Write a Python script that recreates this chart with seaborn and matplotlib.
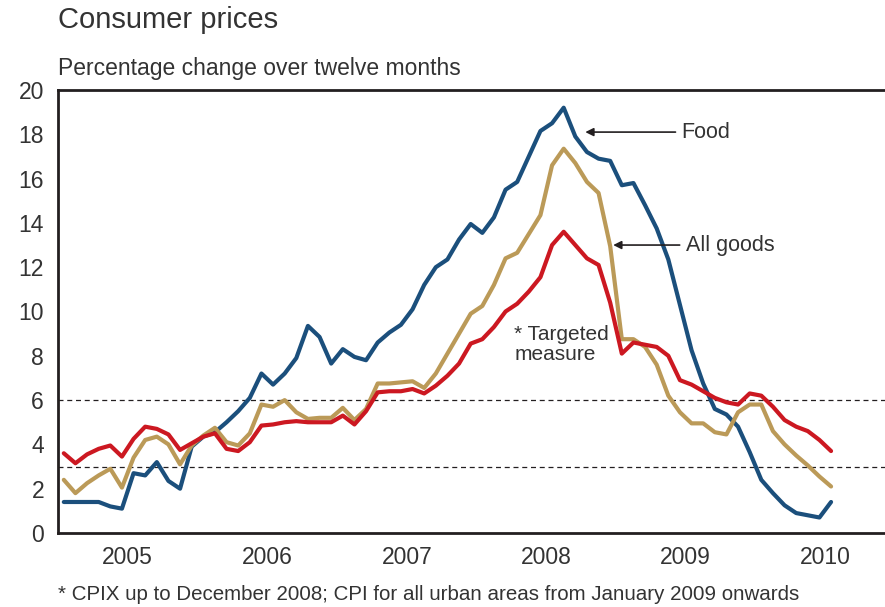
import numpy as np
import pandas as pd
import matplotlib
matplotlib.use("Agg")
import matplotlib.pyplot as plt
import seaborn as sns

# Monthly values, Jan 2005 - Jul 2010 (percentage change over twelve months)
food = [1.4, 1.4, 1.4, 1.4, 1.2, 1.1, 2.7, 2.6, 3.2, 2.35, 2.0, 3.9,
        4.35, 4.55, 5.0, 5.5, 6.1, 7.2, 6.7, 7.2, 7.9, 9.35, 8.85, 7.65,
        8.3, 7.95, 7.8, 8.6, 9.05, 9.4, 10.1, 11.2, 12.0, 12.35, 13.25, 13.95,
        13.55, 14.25, 15.5, 15.85, 17.0, 18.15, 18.5, 19.2, 17.9, 17.2, 16.9, 16.8,
        15.7, 15.8, 14.8, 13.75, 12.35, 10.3, 8.25, 6.75, 5.6, 5.35, 4.8, 3.65,
        2.4, 1.8, 1.25, 0.9, 0.8, 0.7, 1.4]
all_goods = [2.4, 1.8, 2.25, 2.6, 2.9, 2.05, 3.4, 4.2, 4.35, 4.0, 3.1, 3.95,
             4.4, 4.75, 4.1, 3.95, 4.5, 5.8, 5.7, 6.0, 5.45, 5.15, 5.2, 5.2,
             5.65, 5.1, 5.6, 6.75, 6.75, 6.8, 6.85, 6.55, 7.2, 8.1, 9.0, 9.9,
             10.25, 11.2, 12.4, 12.65, 13.5, 14.35, 16.6, 17.35, 16.7, 15.85, 15.35, 12.95,
             8.75, 8.75, 8.4, 7.6, 6.2, 5.45, 4.95, 4.95, 4.55, 4.45, 5.45, 5.8,
             5.8, 4.6, 4.0, 3.5, 3.05, 2.55, 2.1]
targeted = [3.6, 3.15, 3.55, 3.8, 3.95, 3.45, 4.25, 4.8, 4.7, 4.45, 3.75, 4.05,
            4.35, 4.5, 3.8, 3.7, 4.1, 4.85, 4.9, 5.0, 5.05, 5.0, 5.0, 5.0,
            5.3, 4.9, 5.5, 6.35, 6.4, 6.4, 6.5, 6.3, 6.65, 7.1, 7.65, 8.55,
            8.75, 9.3, 10.0, 10.35, 10.9, 11.55, 13.0, 13.6, 13.0, 12.4, 12.1, 10.4,
            8.1, 8.6, 8.5, 8.4, 8.0, 6.9, 6.7, 6.4, 6.1, 5.9, 5.8, 6.3,
            6.2, 5.7, 5.1, 4.8, 4.6, 4.2, 3.7]
years = [2005, 2006, 2007, 2008, 2009, 2010]
target_band = [3, 6]

t = 2005 + (np.arange(len(food)) + 0.5) / 12
df = pd.DataFrame({"t": t, "Food": food, "All goods": all_goods, "Targeted": targeted})

sns.set_style("white")
plt.rcParams["font.family"] = ["Liberation Sans", "DejaVu Sans"]
ink = "#231f20"
txt = "#333333"

fig = plt.figure(figsize=(8.85, 6.07), dpi=100)
ax = fig.add_axes([58 / 885, 1 - 533 / 607, 827 / 885, 443 / 607])

for lvl in target_band:
    ax.axhline(lvl, color=ink, lw=0.9, ls=(0, (4, 3)), zorder=1)

colors = {"Food": "#1b4f7c", "All goods": "#bb9a58", "Targeted": "#cc1821"}
for name, c in colors.items():
    sns.lineplot(data=df, x="t", y=name, ax=ax, color=c, lw=3.0, zorder=3)

ax.set_xlim(2005, 2005 + 827 / 139.5)
ax.set_ylim(0, 20)
ax.set_yticks(range(0, 21, 2))
ax.set_xticks(years[1:])
ax.set_xticklabels([])
ax.set_xticks([y + 0.5 for y in years], minor=True)
ax.set_xticklabels([str(y) for y in years], minor=True)
ax.tick_params(axis="x", which="major", direction="in", length=12, width=1.8, color=ink)
ax.tick_params(axis="x", which="minor", length=0, pad=9, labelsize=16.5, labelcolor=txt)
ax.tick_params(axis="y", direction="in", length=14, width=1.8, color=ink,
               pad=10, labelsize=16.5, labelcolor=txt)
ax.set_xlabel("")
ax.set_ylabel("")
for side in ["left", "bottom", "top"]:
    ax.spines[side].set_color(ink)
    ax.spines[side].set_linewidth(2)
ax.spines["right"].set_visible(False)

arrow = dict(arrowstyle="-|>", color=ink, lw=1.2, mutation_scale=12)
ax.annotate("Food", xy=(2008.76, 18.1), xytext=(2009.47, 18.1), arrowprops=arrow,
            fontsize=15.5, color=txt, va="center", ha="left")
ax.annotate("All goods", xy=(2008.96, 13.0), xytext=(2009.50, 13.0), arrowprops=arrow,
            fontsize=15.5, color=txt, va="center", ha="left")
ax.text(2008.27, 8.5, "* Targeted\nmeasure", fontsize=15, color=txt, va="center",
        ha="left", linespacing=1.1)

fig.text(58 / 885, 1 - 20 / 607, "Consumer prices", fontsize=21, color=txt, va="center")
fig.text(58 / 885, 1 - 68 / 607, "Percentage change over twelve months", fontsize=16.5,
         color=txt, va="center")
fig.text(58 / 885, 1 - 595 / 607,
         "* CPIX up to December 2008; CPI for all urban areas from January 2009 onwards",
         fontsize=14.8, color=txt, va="center")

fig.savefig("out.png", dpi=100)
